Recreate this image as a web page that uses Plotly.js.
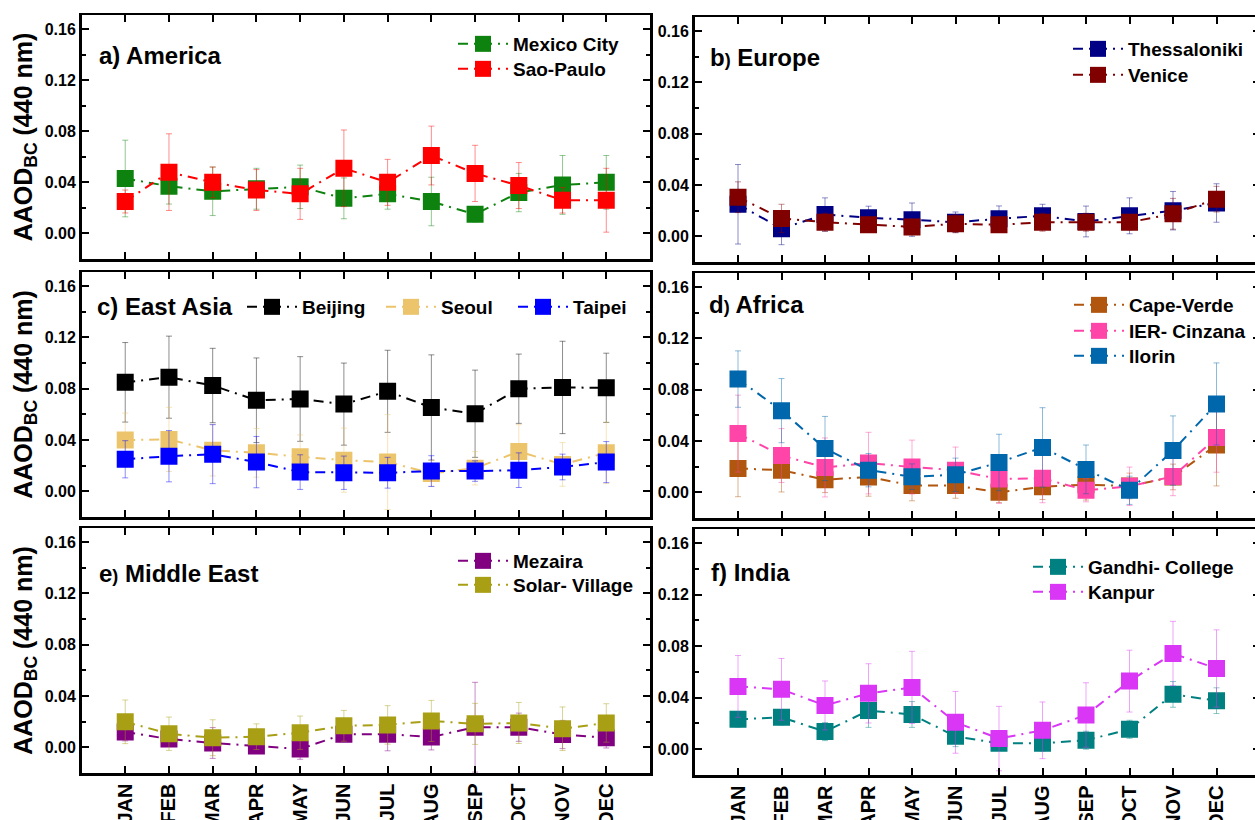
<!DOCTYPE html>
<html><head><meta charset="utf-8">
<script src="https://cdn.plot.ly/plotly-3.0.1.min.js"></script>
<style>html,body{margin:0;padding:0;overflow:hidden;background:#fff;width:1255px;height:820px}#chart{width:1262px;height:820px}</style>
</head><body><div id="chart"></div>
<script>
// ---- data ----
const months = ['JAN','FEB','MAR','APR','MAY','JUN','JUL','AUG','SEP','OCT','NOV','DEC'];
const yTickVals = [0, 0.04, 0.08, 0.12, 0.16];

// a) America
const mexicoCity    = [0.043, 0.037, 0.033, 0.035, 0.0365, 0.0275, 0.031, 0.025, 0.015, 0.032, 0.038, 0.040];
const mexicoCityErr = [0.030, 0.014, 0.019, 0.016, 0.017, 0.016, 0.012, 0.019, 0.006, 0.015, 0.023, 0.021];
const saoPaulo      = [0.025, 0.048, 0.040, 0.034, 0.031, 0.051, 0.040, 0.061, 0.047, 0.0375, 0.026, 0.026];
const saoPauloErr   = [0.009, 0.030, 0.012, 0.016, 0.020, 0.030, 0.018, 0.023, 0.022, 0.018, 0.010, 0.025];
// b) Europe
const thessaloniki    = [0.025, 0.006, 0.017, 0.0145, 0.013, 0.011, 0.0137, 0.016, 0.0116, 0.016, 0.020, 0.026];
const thessalonikiErr = [0.031, 0.0125, 0.013, 0.009, 0.013, 0.008, 0.010, 0.009, 0.012, 0.014, 0.015, 0.015];
const venice          = [0.0305, 0.014, 0.011, 0.009, 0.0073, 0.0098, 0.009, 0.011, 0.011, 0.011, 0.0176, 0.029];
const veniceErr       = [0.012, 0.011, 0.007, 0.006, 0.006, 0.007, 0.006, 0.007, 0.007, 0.006, 0.012, 0.010];
// c) East Asia
const beijing    = [0.085, 0.089, 0.0825, 0.071, 0.072, 0.068, 0.078, 0.0654, 0.0605, 0.080, 0.081, 0.0807];
const beijingErr = [0.031, 0.032, 0.029, 0.033, 0.033, 0.032, 0.032, 0.041, 0.034, 0.027, 0.036, 0.027];
const seoul      = [0.040, 0.0405, 0.032, 0.030, 0.027, 0.0243, 0.0228, 0.014, 0.018, 0.031, 0.021, 0.030];
const seoulErr   = [0.021, 0.025, 0.020, 0.019, 0.017, 0.025, 0.037, 0.010, 0.013, 0.021, 0.017, 0.024];
const taipei     = [0.025, 0.0274, 0.029, 0.0228, 0.015, 0.0145, 0.0145, 0.0158, 0.0158, 0.0165, 0.019, 0.0228];
const taipeiErr  = [0.0145, 0.020, 0.023, 0.020, 0.0135, 0.013, 0.012, 0.012, 0.008, 0.0135, 0.010, 0.016];
// d) Africa
const capeVerde     = [0.0186, 0.0173, 0.0098, 0.012, 0.0054, 0.0054, 0.0, 0.0044, 0.006, 0.005, 0.012, 0.037];
const capeVerdeErr  = [0.022, 0.017, 0.010, 0.015, 0.012, 0.010, 0.008, 0.010, 0.012, 0.010, 0.010, 0.032];
const ierCinzana    = [0.0458, 0.0287, 0.0194, 0.0228, 0.0197, 0.0173, 0.0104, 0.0109, 0.0016, 0.0047, 0.0124, 0.0427];
const ierCinzanaErr = [0.030, 0.021, 0.023, 0.024, 0.021, 0.018, 0.019, 0.019, 0.009, 0.015, 0.015, 0.027];
const ilorin        = [0.0883, 0.0637, 0.0342, 0.0173, 0.0122, 0.0137, 0.0233, 0.035, 0.0179, 0.0016, 0.0326, 0.0689];
const ilorinErr     = [0.022, 0.025, 0.025, 0.013, 0.010, 0.013, 0.022, 0.031, 0.019, 0.011, 0.027, 0.032];
// e) Middle East
const mezaira          = [0.012, 0.0065, 0.0034, 0.001, -0.0013, 0.0103, 0.0103, 0.008, 0.0157, 0.0157, 0.010, 0.0075];
const mezairaErr       = [0.007, 0.005, 0.012, 0.004, 0.008, 0.005, 0.013, 0.010, 0.035, 0.011, 0.011, 0.008];
const solarVillage     = [0.0199, 0.0106, 0.0075, 0.0083, 0.0114, 0.0168, 0.0175, 0.0206, 0.0183, 0.019, 0.0145, 0.019];
const solarVillageErr  = [0.017, 0.013, 0.014, 0.010, 0.013, 0.012, 0.015, 0.016, 0.016, 0.016, 0.017, 0.015];
// f) India
const gandhiCollege    = [0.0232, 0.0248, 0.0137, 0.030, 0.027, 0.010, 0.0046, 0.0046, 0.007, 0.0155, 0.0426, 0.0377];
const gandhiCollegeErr = [0.006, 0.006, 0.007, 0.013, 0.010, 0.008, 0.005, 0.006, 0.007, 0.007, 0.010, 0.010];
const kanpur           = [0.0488, 0.0465, 0.034, 0.0434, 0.048, 0.0209, 0.0083, 0.0147, 0.0266, 0.0529, 0.0743, 0.0627];
const kanpurErr        = [0.024, 0.024, 0.019, 0.023, 0.028, 0.024, 0.025, 0.022, 0.025, 0.024, 0.025, 0.030];

// ---- styling / layout ----
const W = 1262, H = 820;
const FONT = 'Liberation Sans, Arial, sans-serif';
const px = v => v / W;
const py = v => 1 - v / H;

function hexA(hex, a) {
  const n = parseInt(hex.slice(1), 16);
  return 'rgba(' + ((n >> 16) & 255) + ',' + ((n >> 8) & 255) + ',' + (n & 255) + ',' + a + ')';
}

let legendCount = 0;
const layout = {
  width: W, height: H,
  margin: {l: 0, r: 0, t: 0, b: 0},
  paper_bgcolor: '#ffffff', plot_bgcolor: '#ffffff',
  font: {family: FONT, color: '#000000'},
  hovermode: false,
  annotations: [],
  showlegend: true
};

// each entry gets its own legend box: (cx, cy) = centre of legend square in px
function series(name, y, err, color, ax, cx, cy) {
  legendCount++;
  const key = legendCount === 1 ? 'legend' : 'legend' + legendCount;
  layout[key] = {
    x: px(cx - 30), y: py(cy - 20), xanchor: 'left', yanchor: 'top',
    bgcolor: 'rgba(0,0,0,0)', borderwidth: 0, itemwidth: 50, tracegroupgap: 0,
    font: {family: FONT, size: 19, weight: 700, color: '#000'}
  };
  return {
    type: 'scatter', mode: 'lines+markers', name: name,
    x: months, y: y,
    xaxis: 'x' + ax, yaxis: 'y' + ax, legend: key,
    line: {color: color, width: 2, dash: '10px,6px,2px,6px'},
    marker: {symbol: 'square', size: 17, color: color},
    error_y: {type: 'data', array: err, visible: true, color: hexA(color, 0.45), thickness: 1, width: 3}
  };
}

const traces = [
  series('Mexico City', mexicoCity, mexicoCityErr, '#0e820e', '', 483, 45),
  series('Sao-Paulo', saoPaulo, saoPauloErr, '#ff0000', '', 483, 70),
  series('Thessaloniki', thessaloniki, thessalonikiErr, '#000085', '2', 1098, 50),
  series('Venice', venice, veniceErr, '#800000', '2', 1098, 76),
  series('Beijing', beijing, beijingErr, '#000000', '3', 272, 308),
  series('Seoul', seoul, seoulErr, '#ecc46b', '3', 411, 308),
  series('Taipei', taipei, taipeiErr, '#0000ff', '3', 543, 308),
  series('Cape-Verde', capeVerde, capeVerdeErr, '#b0560f', '4', 1099, 306),
  series('IER- Cinzana', ierCinzana, ierCinzanaErr, '#ff45a8', '4', 1099, 332),
  series('Ilorin', ilorin, ilorinErr, '#0067ac', '4', 1099, 357),
  series('Mezaira', mezaira, mezairaErr, '#800080', '5', 483, 562),
  series('Solar- Village', solarVillage, solarVillageErr, '#a89f14', '5', 483, 586),
  series('Gandhi- College', gandhiCollege, gandhiCollegeErr, '#008080', '6', 1058, 568),
  series('Kanpur', kanpur, kanpurErr, '#d936f5', '6', 1058, 593)
];

// panel frames in pixels: [left, right, top, bottom]
const frames = [
  [81.5, 650, 15, 259],
  [694.5, 1260, 17, 262],
  [81.5, 650, 272, 517],
  [694.5, 1260, 273, 518],
  [81.5, 650, 528, 773],
  [694.5, 1260, 529, 775]
];

frames.forEach((f, i) => {
  const k = i === 0 ? '' : String(i + 1);
  const bottom = i >= 4;
  const left = i % 2 === 0;
  layout['xaxis' + k] = {
    domain: [px(f[0]), px(f[1])], anchor: 'y' + k,
    range: [-1, 12], type: 'category',
    showline: true, linewidth: 2.5, linecolor: '#000', mirror: 'allticks',
    ticks: 'inside', ticklen: 7, tickwidth: 2, tickcolor: '#000',
    showgrid: false, zeroline: false,
    showticklabels: bottom, tickangle: -90,
    tickfont: {family: FONT, size: 20, weight: 700, color: '#000'}
  };
  const ya = {
    domain: [py(f[3]), py(f[2])], anchor: 'x' + k,
    range: [-0.02, 0.171],
    tickvals: yTickVals, tickformat: '.2f',
    showline: true, linewidth: 2.5, linecolor: '#000', mirror: 'allticks',
    ticks: 'inside', ticklen: 7, tickwidth: 2, tickcolor: '#000',
    minor: {tickvals: [0.02, 0.06, 0.10, 0.14], ticks: 'inside', ticklen: 4, tickwidth: 2, tickcolor: '#000'},
    showgrid: false, zeroline: false,
    tickfont: {family: FONT, size: 16, weight: 700, color: '#000'}
  };
  if (left) {
    ya.title = {text: 'AAOD<sub>BC</sub> (440 nm)', standoff: 5,
                font: {family: FONT, size: 25, weight: 700, color: '#000'}};
  }
  layout['yaxis' + k] = ya;
});

const titles = [
  ['a) America', 97, 55],
  ['b<span style="font-size:18px">)</span> Europe', 708, 57],
  ['c) East Asia', 95, 306],
  ['d<span style="font-size:18px">)</span> Africa', 707, 304],
  ['e<span style="font-size:18px">)</span> Middle East', 97, 573],
  ['f) India', 709, 572]
];
titles.forEach(t => layout.annotations.push({
  text: t[0], xref: 'paper', yref: 'paper', x: px(t[1]), y: py(t[2]),
  xanchor: 'left', yanchor: 'middle', showarrow: false,
  font: {family: FONT, size: 24, weight: 700, color: '#000'}
}));

Plotly.newPlot('chart', traces, layout, {staticPlot: true, displayModeBar: false});
</script></body></html>
